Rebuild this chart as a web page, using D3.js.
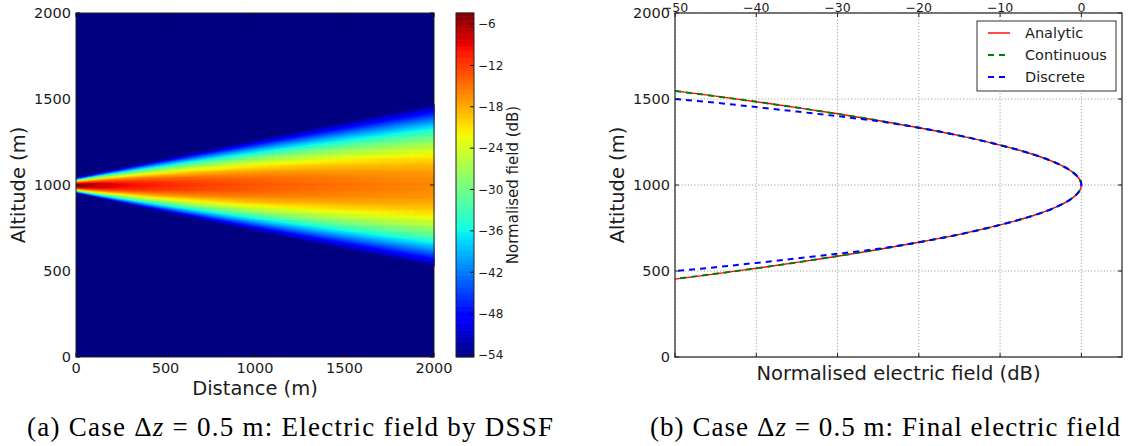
<!DOCTYPE html>
<html>
<head>
<meta charset="utf-8">
<script src="https://cdn.jsdelivr.net/npm/d3@7"></script>
<style>
  html, body { margin: 0; padding: 0; background: #fff; }
  svg { display: block; }
  .sans { font-family: "DejaVu Sans", sans-serif; fill: #1c1c1c; }
  .serif { font-family: "Liberation Serif", "DejaVu Serif", serif; fill: #000; }
</style>
</head>
<body>
<svg id="fig" width="1128" height="446"></svg>
<script>
// ---- Propagated beam map (left panel) ----
const distanceSteps  = [0, 250, 500, 750, 1000, 1250, 1500, 1750, 2000];
const beamCentreDb   = [-4.6, -8.9, -10.9, -12.3, -13.3, -14.2, -14.9, -15.5, -16.0];
const beamWidthRatio = [0.08, 0.195, 0.31, 0.425, 0.54, 0.655, 0.77, 0.885, 1.0];
const mapTicks       = [0, 500, 1000, 1500, 2000];
const colourTicks    = [-54, -48, -42, -36, -30, -24, -18, -12, -6];
const colourRange    = [-54.3, -4.4];

// ---- Final field at 2000 m (right panel) ----
const fieldLevels     = [-50, -45, -40, -35, -30, -25, -20, -15, -10, -6, -3, -1, 0];
const analyticUpper   = [1547, 1517, 1484, 1450, 1414, 1375, 1333, 1287, 1232, 1179, 1126, 1072, 1000];
const analyticLower   = [453, 483, 516, 550, 586, 625, 667, 713, 768, 821, 874, 928, 1000];
const continuousUpper = [1546, 1516, 1484, 1450, 1413, 1375, 1333, 1287, 1232, 1179, 1126, 1072, 1000];
const continuousLower = [454, 484, 516, 550, 587, 625, 667, 713, 768, 821, 874, 928, 1000];
const discreteUpper   = [1500, 1478, 1453, 1427, 1400, 1371, 1333, 1287, 1232, 1179, 1126, 1072, 1000];
const discreteLower   = [500, 522, 547, 573, 600, 629, 667, 713, 768, 821, 874, 928, 1000];
const fieldTicks      = [-50, -40, -30, -20, -10, 0];
const altitudeTicks   = [0, 500, 1000, 1500, 2000];
const seriesNames     = ["Analytic", "Continuous", "Discrete"];
const seriesColours   = ["#ff0000", "#007f00", "#0000ff"];

const svg = d3.select("#fig");
const fmt = v => String(v).replace("-", "\u2212");

// jet colour map
const jetAnchors = [0, 0.11, 0.125, 0.34, 0.35, 0.375, 0.64, 0.65, 0.66, 0.89, 0.91, 1];
const jetColours = ["#000080", "#0000ff", "#0000ff", "#00dbff", "#00e5f7", "#14ffe2",
                    "#eeff08", "#f7f500", "#ffec00", "#ff1300", "#e80000", "#800000"];
const colour = d3.scaleLinear()
  .domain(jetAnchors.map(t => colourRange[0] + t * (colourRange[1] - colourRange[0])))
  .range(jetColours)
  .interpolate(d3.interpolateRgb)
  .clamp(true);

// ================= Left panel: field map =================
const mapBox = { left: 76, right: 434, top: 13, bottom: 357 };
const xMap = d3.scaleLinear().domain([0, 2000]).range([mapBox.left, mapBox.right]);
const yMap = d3.scaleLinear().domain([0, 2000]).range([mapBox.bottom, mapBox.top]);

const centreAt = d3.scaleLinear().domain(distanceSteps).range(beamCentreDb);
const widthAt  = d3.scaleLinear().domain(distanceSteps).range(beamWidthRatio);
// beam cross-section shape, taken from the final-field profile
const upperShape = d3.scaleLinear()
  .domain(analyticUpper.map(a => a - 1000).reverse())
  .range(fieldLevels.slice().reverse()).clamp(true);
const lowerShape = d3.scaleLinear()
  .domain(analyticLower.map(a => 1000 - a).reverse())
  .range(fieldLevels.slice().reverse()).clamp(true);

const dStep = 10, aStep = 5;
const cells = [];
for (let d = 0; d < 2000; d += dStep) {
  for (let a = 0; a < 2000; a += aStep) {
    const dm = d + dStep / 2, am = a + aStep / 2;
    const off = (am - 1000) / widthAt(dm);
    const drop = off >= 0 ? upperShape(off) : lowerShape(-off);
    const v = centreAt(dm) + drop;
    if (v > colourRange[0]) cells.push({ d, a, v });
  }
}

const gMap = svg.append("g");
gMap.append("rect")
  .attr("x", mapBox.left).attr("y", mapBox.top)
  .attr("width", mapBox.right - mapBox.left).attr("height", mapBox.bottom - mapBox.top)
  .attr("fill", colour(colourRange[0]));
gMap.append("g").selectAll("rect").data(cells).join("rect")
  .attr("x", c => xMap(c.d))
  .attr("y", c => yMap(c.a + aStep))
  .attr("width", c => xMap(c.d + dStep) - xMap(c.d) + 0.6)
  .attr("height", c => yMap(c.a) - yMap(c.a + aStep) + 0.6)
  .attr("fill", c => colour(c.v));

// map frame and inward ticks
gMap.append("rect")
  .attr("x", mapBox.left).attr("y", mapBox.top)
  .attr("width", mapBox.right - mapBox.left).attr("height", mapBox.bottom - mapBox.top)
  .attr("fill", "none").attr("stroke", "#222").attr("stroke-width", 1);
const mapTickG = gMap.append("g").attr("stroke", "#111").attr("stroke-width", 1);
mapTicks.forEach(t => {
  mapTickG.append("line").attr("x1", xMap(t)).attr("x2", xMap(t)).attr("y1", mapBox.bottom).attr("y2", mapBox.bottom - 4);
  mapTickG.append("line").attr("x1", xMap(t)).attr("x2", xMap(t)).attr("y1", mapBox.top).attr("y2", mapBox.top + 4);
  mapTickG.append("line").attr("y1", yMap(t)).attr("y2", yMap(t)).attr("x1", mapBox.left).attr("x2", mapBox.left + 4);
  mapTickG.append("line").attr("y1", yMap(t)).attr("y2", yMap(t)).attr("x1", mapBox.right).attr("x2", mapBox.right - 4);
});
gMap.selectAll(".xt").data(mapTicks).join("text")
  .attr("class", "sans").attr("x", d => xMap(d)).attr("y", 373)
  .attr("text-anchor", "middle").attr("font-size", 14.5).text(d => d);
gMap.selectAll(".yt").data(mapTicks).join("text")
  .attr("class", "sans").attr("x", 71).attr("y", d => yMap(d))
  .attr("dy", "0.36em").attr("text-anchor", "end").attr("font-size", 14.5).text(d => d);
gMap.append("text").attr("class", "sans")
  .attr("x", xMap(1000)).attr("y", 395).attr("text-anchor", "middle")
  .attr("font-size", 19.5).text("Distance (m)");
gMap.append("text").attr("class", "sans")
  .attr("transform", `translate(25,${yMap(1000)}) rotate(-90)`)
  .attr("text-anchor", "middle").attr("font-size", 19.5).text("Altitude (m)");

// colour bar
const barBox = { left: 456, right: 474, top: 13, bottom: 357 };
const yBar = d3.scaleLinear().domain(colourRange).range([barBox.bottom, barBox.top]);
const barSteps = d3.range(0, 200).map(i => colourRange[0] + (i + 0.5) * (colourRange[1] - colourRange[0]) / 200);
const barH = (barBox.bottom - barBox.top) / 200;
const gBar = svg.append("g");
gBar.selectAll("rect").data(barSteps).join("rect")
  .attr("x", barBox.left).attr("width", barBox.right - barBox.left)
  .attr("y", v => yBar(v) - barH / 2 - 0.3).attr("height", barH + 0.6)
  .attr("fill", v => colour(v));
gBar.append("rect")
  .attr("x", barBox.left).attr("y", barBox.top)
  .attr("width", barBox.right - barBox.left).attr("height", barBox.bottom - barBox.top)
  .attr("fill", "none").attr("stroke", "#222").attr("stroke-width", 1);
gBar.selectAll("line").data(colourTicks).join("line")
  .attr("x1", barBox.right).attr("x2", barBox.right - 4)
  .attr("y1", v => yBar(v)).attr("y2", v => yBar(v))
  .attr("stroke", "#111").attr("stroke-width", 1);
gBar.selectAll("text.ct").data(colourTicks).join("text")
  .attr("class", "sans ct").attr("x", 478).attr("y", v => yBar(v))
  .attr("dy", "0.36em").attr("font-size", 12).text(fmt);
gBar.append("text").attr("class", "sans")
  .attr("transform", `translate(518,${yMap(1000)}) rotate(-90)`)
  .attr("text-anchor", "middle").attr("font-size", 15).text("Normalised field (dB)");

// ================= Right panel: final field =================
const fBox = { left: 675, right: 1122, top: 13, bottom: 357 };
const xF = d3.scaleLinear().domain([-50, 5]).range([fBox.left, fBox.right]);
const yF = d3.scaleLinear().domain([0, 2000]).range([fBox.bottom, fBox.top]);
const gF = svg.append("g");

// dotted grid
const grid = gF.append("g").attr("stroke", "#9a9a9a").attr("stroke-width", 0.9).attr("stroke-dasharray", "1.2,2");
fieldTicks.forEach(t => grid.append("line").attr("x1", xF(t)).attr("x2", xF(t)).attr("y1", fBox.top).attr("y2", fBox.bottom));
altitudeTicks.forEach(t => grid.append("line").attr("y1", yF(t)).attr("y2", yF(t)).attr("x1", fBox.left).attr("x2", fBox.right));

const clip = svg.append("defs").append("clipPath").attr("id", "fclip");
clip.append("rect").attr("x", fBox.left).attr("y", fBox.top)
  .attr("width", fBox.right - fBox.left).attr("height", fBox.bottom - fBox.top);

function profilePoints(upper, lower) {
  const pts = fieldLevels.map((l, i) => [l, upper[i]]);
  for (let i = fieldLevels.length - 2; i >= 0; i--) pts.push([fieldLevels[i], lower[i]]);
  return pts;
}
const line = d3.line().x(p => xF(p[0])).y(p => yF(p[1])).curve(d3.curveMonotoneY);
const series = [
  { pts: profilePoints(analyticUpper, analyticLower), width: 1.4, dash: null },
  { pts: profilePoints(continuousUpper, continuousLower), width: 2, dash: "6,5" },
  { pts: profilePoints(discreteUpper, discreteLower), width: 2, dash: "6,5" }
];
const gLines = gF.append("g").attr("clip-path", "url(#fclip)");
series.forEach((s, i) => {
  gLines.append("path").attr("d", line(s.pts)).attr("fill", "none")
    .attr("stroke", seriesColours[i]).attr("stroke-width", s.width)
    .attr("stroke-dasharray", s.dash);
});

// frame and inward ticks
gF.append("rect")
  .attr("x", fBox.left).attr("y", fBox.top)
  .attr("width", fBox.right - fBox.left).attr("height", fBox.bottom - fBox.top)
  .attr("fill", "none").attr("stroke", "#333").attr("stroke-width", 1.3);
const fTickG = gF.append("g").attr("stroke", "#222").attr("stroke-width", 1);
fieldTicks.forEach(t => {
  fTickG.append("line").attr("x1", xF(t)).attr("x2", xF(t)).attr("y1", fBox.bottom).attr("y2", fBox.bottom - 4);
  fTickG.append("line").attr("x1", xF(t)).attr("x2", xF(t)).attr("y1", fBox.top).attr("y2", fBox.top + 4);
});
altitudeTicks.forEach(t => {
  fTickG.append("line").attr("y1", yF(t)).attr("y2", yF(t)).attr("x1", fBox.left).attr("x2", fBox.left + 4);
  fTickG.append("line").attr("y1", yF(t)).attr("y2", yF(t)).attr("x1", fBox.right).attr("x2", fBox.right - 4);
});
gF.selectAll("text.xt").data(fieldTicks).join("text")
  .attr("class", "sans xt").attr("x", d => xF(d)).attr("y", 11.8)
  .attr("text-anchor", "middle").attr("font-size", 12.5).text(fmt);
gF.selectAll("text.yt").data(altitudeTicks).join("text")
  .attr("class", "sans yt").attr("x", 670).attr("y", d => yF(d))
  .attr("dy", "0.36em").attr("text-anchor", "end").attr("font-size", 14.5).text(d => d);
gF.append("text").attr("class", "sans")
  .attr("x", (fBox.left + fBox.right) / 2).attr("y", 380).attr("text-anchor", "middle")
  .attr("font-size", 19.5).text("Normalised electric field (dB)");
gF.append("text").attr("class", "sans")
  .attr("transform", `translate(624,${yF(1000)}) rotate(-90)`)
  .attr("text-anchor", "middle").attr("font-size", 19.5).text("Altitude (m)");

// legend
const legend = gF.append("g");
legend.append("rect").attr("x", 977).attr("y", 21).attr("width", 139).attr("height", 70)
  .attr("fill", "#fff").attr("stroke", "#333").attr("stroke-width", 1);
seriesNames.forEach((name, i) => {
  const y = 33 + i * 22;
  legend.append("line").attr("x1", 988).attr("x2", 1010).attr("y1", y).attr("y2", y)
    .attr("stroke", seriesColours[i]).attr("stroke-width", series[i].width)
    .attr("stroke-dasharray", series[i].dash);
  legend.append("text").attr("class", "sans").attr("x", 1025).attr("y", y)
    .attr("dy", "0.36em").attr("font-size", 14.5).text(name);
});

// ================= Captions =================
function caption(x, len, label, rest) {
  const t = svg.append("text").attr("class", "serif")
    .attr("x", x).attr("y", 436).attr("font-size", 27)
    .attr("textLength", len).attr("lengthAdjust", "spacing");
  t.append("tspan").text(label + " Case \u0394");
  t.append("tspan").attr("font-style", "italic").text("z");
  t.append("tspan").text(" = 0.5 m: " + rest);
}
caption(27, 526, "(a)", "Electric field by DSSF");
caption(650, 470, "(b)", "Final electric field");
</script>
</body>
</html>
